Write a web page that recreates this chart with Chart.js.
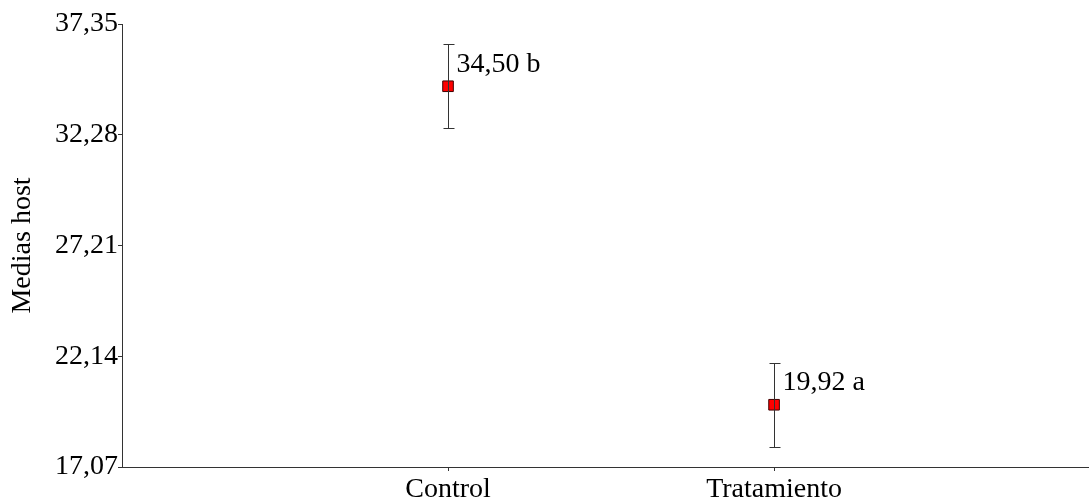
<!DOCTYPE html>
<html>
<head>
<meta charset="utf-8">
<script src="https://cdn.jsdelivr.net/npm/chart.js@4/dist/chart.umd.min.js"></script>
<style>
    html, body { margin: 0; padding: 0; background: #fff; }
    #wrap { width: 1089px; height: 503px; position: relative; }
</style>
</head>
<body>
<div id="wrap"><canvas id="chart"></canvas></div>
<script>
let categorias = ['Control', 'Tratamiento'];
let medias = [34.50, 19.92];
let errores = [1.92, 1.92];
let letras = ['b', 'a'];
let ticksY = [17.07, 22.14, 27.21, 32.28, 37.35];

let fuente = { family: "'Liberation Serif', 'Times New Roman', serif", size: 28 };
let coma = v => v.toFixed(2).replace('.', ',');

// barras de error y etiquetas de las medias
let errorBars = {
    id: 'errorBars',
    afterDatasetsDraw(chart) {
        let ctx = chart.ctx;
        let xs = chart.scales.x, ys = chart.scales.y;
        ctx.save();
        medias.forEach((m, i) => {
            let x = Math.round(xs.getPixelForValue(i + 1)) + 0.5;
            let yTop = Math.round(ys.getPixelForValue(m + errores[i])) + 0.5;
            let yBot = Math.round(ys.getPixelForValue(m - errores[i])) + 0.5;
            let y = ys.getPixelForValue(m);
            ctx.strokeStyle = '#333';
            ctx.lineWidth = 1;
            ctx.beginPath();
            ctx.moveTo(x, yTop); ctx.lineTo(x, yBot);
            ctx.moveTo(x - 5, yTop); ctx.lineTo(x + 6, yTop);
            ctx.moveTo(x - 5, yBot); ctx.lineTo(x + 6, yBot);
            ctx.stroke();
            ctx.fillStyle = '#000';
            ctx.font = fuente.size + 'px ' + fuente.family;
            ctx.textAlign = 'left';
            ctx.textBaseline = 'middle';
            ctx.fillText(coma(m) + ' ' + letras[i], x + 8, y - 22);
        });
        ctx.restore();
    }
};

let datos = {
    datasets: [{
        label: 'Medias host',
        data: medias.map((m, i) => ({ x: i + 1, y: m })),
        showLine: false,
        pointStyle: 'rect',
        pointRadius: 7.5,
        pointBackgroundColor: '#ff0000',
        pointBorderColor: '#400000',
        pointBorderWidth: 1
    }]
};

let opciones = {
    responsive: true,
    maintainAspectRatio: false,
    animation: false,
    layout: { autoPadding: false, padding: { top: 24, right: 0, bottom: 0, left: 0 } },
    scales: {
        x: {
            type: 'linear',
            min: 0,
            max: 2.966,
            afterBuildTicks: s => { s.ticks = categorias.map((c, i) => ({ value: i + 1 })); },
            afterFit: s => { s.height = 36; s.paddingLeft = 0; s.paddingRight = 0; },
            ticks: {
                color: '#000',
                font: fuente,
                padding: 2,
                maxRotation: 0,
                autoSkip: false,
                callback: v => categorias[v - 1]
            },
            grid: { drawOnChartArea: false, drawTicks: true, tickLength: 4, color: '#333' },
            border: { display: true, color: '#333', width: 1 }
        },
        y: {
            min: ticksY[0],
            max: ticksY[ticksY.length - 1],
            afterBuildTicks: s => { s.ticks = ticksY.map(v => ({ value: v })); },
            afterFit: s => { s.width = 122; },
            title: {
                display: true,
                text: 'Medias host',
                color: '#000',
                font: fuente,
                padding: { top: 6, bottom: 0 }
            },
            ticks: {
                color: '#000',
                font: fuente,
                padding: 0,
                callback: v => coma(v)
            },
            grid: { drawOnChartArea: false, drawTicks: true, tickLength: 4, color: '#333' },
            border: { display: true, color: '#333', width: 1 }
        }
    },
    plugins: {
        legend: { display: false },
        tooltip: { enabled: false }
    }
};

let ctx = document.getElementById('chart');

let miGrafica = new Chart(ctx, {
    type: 'scatter',
    data: datos,
    options: opciones,
    plugins: [errorBars]
});
</script>
</body>
</html>
